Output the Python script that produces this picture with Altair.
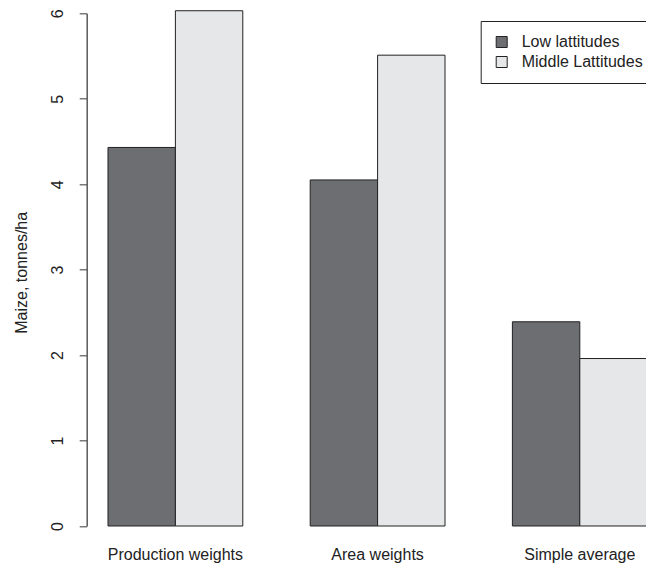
import altair as alt
import pandas as pd

groups = ["Production weights", "Area weights", "Simple average"]
series = ["Low lattitudes", "Middle Lattitudes"]
low_vals = [4.43, 4.05, 2.39]
mid_vals = [6.03, 5.51, 1.96]
y_ticks = [0, 1, 2, 3, 4, 5, 6]
colors = ["#6d6e71", "#e6e7e8"]

rows = []
for g, lo, mi in zip(groups, low_vals, mid_vals):
    rows.append({"group": g, "series": series[0], "value": lo})
    rows.append({"group": g, "series": series[1], "value": mi})
df = pd.DataFrame(rows)

FONT = "Liberation Sans"
TXT = "#222222"
AX = "#5a5a5a"

yscale = alt.Scale(domain=[y_ticks[0], y_ticks[-1]], nice=False, zero=True)

yaxis = alt.Axis(
    title="Maize, tonnes/ha", values=y_ticks, format="d", grid=False,
    domain=True, domainColor=AX, domainWidth=1.5, domainOpacity=1,
    ticks=True, tickSize=7.5, tickColor=AX, tickWidth=1.2,
    labelAngle=270, labelAlign="center", labelBaseline="alphabetic",
    labelPadding=17, labelFontSize=16, labelFont=FONT, labelColor=TXT,
    titleAngle=270, titleAlign="center", titleBaseline="alphabetic",
    titleX=-59.7, titleY=259, titleFontSize=16, titleFont=FONT,
    titleFontWeight="normal", titleColor=TXT,
)

bars = alt.Chart(df).mark_bar(stroke="#222222", strokeWidth=1).encode(
    x=alt.X(
        "group:N",
        sort=groups,
        scale=alt.Scale(range=[0, 581.8], paddingInner=1 / 3, paddingOuter=0.1053),
        axis=alt.Axis(
            title=None, domain=False, ticks=False, tickSize=0, labelAngle=0,
            labelFontSize=16, labelFont=FONT, labelColor=TXT,
            labelBaseline="alphabetic", labelPadding=33,
        ),
    ),
    xOffset=alt.XOffset("series:N", sort=series,
                        scale=alt.Scale(paddingInner=0, paddingOuter=0)),
    y=alt.Y("value:Q", scale=yscale, axis=yaxis),
    fill=alt.Fill(
        "series:N",
        sort=series,
        scale=alt.Scale(domain=series, range=colors),
        legend=alt.Legend(
            title=None, orient="none", legendX=394, legendY=7.7,
            symbolType="square", symbolSize=121, symbolStrokeColor="#222222",
            symbolStrokeWidth=1, symbolOpacity=1,
            labelFontSize=16, labelFont=FONT, labelColor=TXT, labelOffset=12,
            padding=13, rowPadding=4, strokeColor="#222222", fillColor="white",
        ),
    ),
)

chart = bars.properties(
    width=559.3,
    height=512.7,
    autosize="none",
    padding={"left": 78.7, "top": 5.3, "right": 0, "bottom": 38},
).configure(font=FONT).configure_view(stroke=None)

chart.save("out.html", embed_options={"renderer": "svg", "actions": False})
